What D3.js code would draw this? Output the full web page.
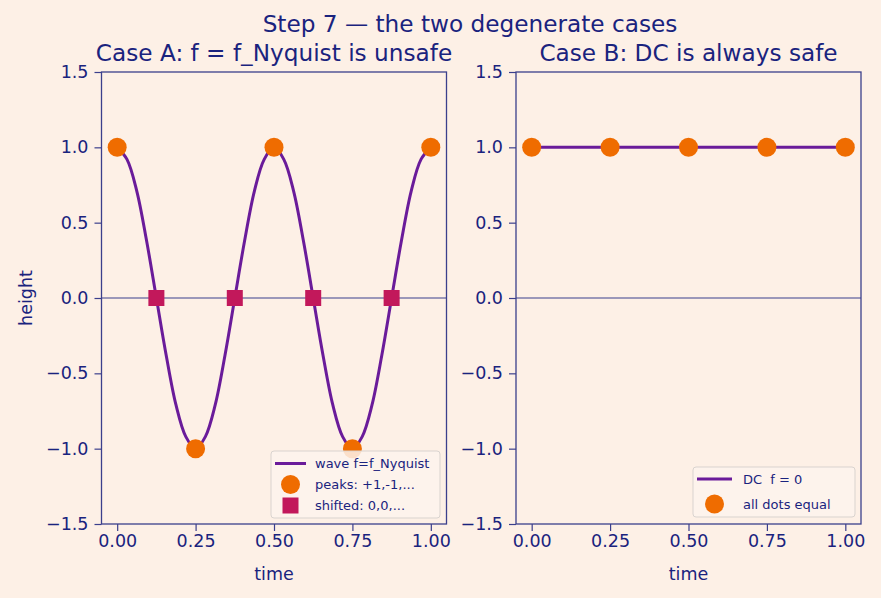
<!DOCTYPE html>
<html>
<head>
<meta charset="utf-8">
<script src="https://cdn.jsdelivr.net/npm/d3@7"></script>
<style>
  body { margin: 0; background: #fdf0e6; }
  svg text { font-family: "DejaVu Sans", sans-serif; fill: #1a237e; white-space: pre; }
</style>
</head>
<body>
<div id="chart"></div>
<script>
const waveT = [0, 0.03125, 0.0625, 0.09375, 0.125, 0.15625, 0.1875, 0.21875, 0.25,
  0.28125, 0.3125, 0.34375, 0.375, 0.40625, 0.4375, 0.46875, 0.5,
  0.53125, 0.5625, 0.59375, 0.625, 0.65625, 0.6875, 0.71875, 0.75,
  0.78125, 0.8125, 0.84375, 0.875, 0.90625, 0.9375, 0.96875, 1];
const waveY = [1, 0.92, 0.71, 0.38, 0, -0.38, -0.71, -0.92, -1,
  -0.92, -0.71, -0.38, 0, 0.38, 0.71, 0.92, 1,
  0.92, 0.71, 0.38, 0, -0.38, -0.71, -0.92, -1,
  -0.92, -0.71, -0.38, 0, 0.38, 0.71, 0.92, 1];
const peakT = [0, 0.25, 0.5, 0.75, 1];
const peakY = [1, -1, 1, -1, 1];
const shiftT = [0.125, 0.375, 0.625, 0.875];
const shiftY = [0, 0, 0, 0];
const dcT = [0, 1];
const dcY = [1, 1];
const dotT = [0, 0.25, 0.5, 0.75, 1];
const dotY = [1, 1, 1, 1, 1];
const xTicks = [0, 0.25, 0.5, 0.75, 1];
const yTicks = [-1.5, -1, -0.5, 0, 0.5, 1, 1.5];

const W = 881, H = 598;
const ink = "#1a237e", spine = "#3b3f8c";
const cPurple = "#6a1b9a", cOrange = "#ef6c00", cRed = "#c2185b";

const svg = d3.select("#chart").append("svg")
  .attr("width", W).attr("height", H);
svg.append("rect").attr("width", W).attr("height", H).attr("fill", "#fdf0e6");

svg.append("text").attr("x", 470).attr("y", 32)
  .attr("text-anchor", "middle").attr("font-size", 23.2).text("Step 7 — the two degenerate cases");

function panel(left, title, withYLabel) {
  const top = 72, bottom = 524, right = left + 345;
  const x = d3.scaleLinear().domain([-0.05, 1.05]).range([left, right]);
  const y = d3.scaleLinear().domain([-1.5, 1.5]).range([bottom, top]);
  const g = svg.append("g");

  // zero line
  g.append("line").attr("x1", left).attr("x2", right)
    .attr("y1", y(0)).attr("y2", y(0))
    .attr("stroke", spine).attr("stroke-width", 1.2);

  const xa = g.append("g").attr("transform", `translate(0,${bottom})`)
    .call(d3.axisBottom(x).tickValues(xTicks).tickFormat(d3.format(".2f")).tickSize(7).tickPadding(4));
  const ya = g.append("g").attr("transform", `translate(${left},0)`)
    .call(d3.axisLeft(y).tickValues(yTicks).tickFormat(d3.format(".1f")).tickSize(7).tickPadding(6));
  [xa, ya].forEach(a => {
    a.select(".domain").remove();
    a.selectAll("line").attr("stroke", spine).attr("stroke-width", 1.2);
    a.selectAll("text").attr("font-size", 17.5).attr("fill", ink)
      .style("font-family", "DejaVu Sans");
  });

  g.append("rect").attr("x", left).attr("y", top)
    .attr("width", right - left).attr("height", bottom - top)
    .attr("fill", "none").attr("stroke", spine).attr("stroke-width", 1.3);

  g.append("text").attr("x", (left + right) / 2).attr("y", 61)
    .attr("text-anchor", "middle").attr("font-size", 23.2).text(title);
  g.append("text").attr("x", (left + right) / 2).attr("y", 580)
    .attr("text-anchor", "middle").attr("font-size", 17.5).text("time");
  if (withYLabel) {
    g.append("text").attr("transform", `translate(32,${y(0)}) rotate(-90)`)
      .attr("text-anchor", "middle").attr("font-size", 17.5).text("height");
  }
  return { g, x, y };
}

const A = panel(101.5, "Case A: f = f_Nyquist is unsafe", true);
const B = panel(516, "Case B: DC is always safe", false);

// Case A marks
const waveLine = d3.line().x(d => A.x(d[0])).y(d => A.y(d[1])).curve(d3.curveCatmullRom);
A.g.append("path").datum(d3.zip(waveT, waveY)).attr("d", waveLine)
  .attr("fill", "none").attr("stroke", cPurple).attr("stroke-width", 3);
A.g.selectAll("circle.peak").data(d3.zip(peakT, peakY)).join("circle")
  .attr("class", "peak").attr("cx", d => A.x(d[0])).attr("cy", d => A.y(d[1]))
  .attr("r", 9.5).attr("fill", cOrange);
A.g.selectAll("rect.shift").data(d3.zip(shiftT, shiftY)).join("rect")
  .attr("class", "shift").attr("x", d => A.x(d[0]) - 8).attr("y", d => A.y(d[1]) - 8)
  .attr("width", 16).attr("height", 16).attr("fill", cRed);

// Case B marks
const dcLine = d3.line().x(d => B.x(d[0])).y(d => B.y(d[1]));
B.g.append("path").datum(d3.zip(dcT, dcY)).attr("d", dcLine)
  .attr("fill", "none").attr("stroke", cPurple).attr("stroke-width", 3);
B.g.selectAll("circle.dot").data(d3.zip(dotT, dotY)).join("circle")
  .attr("class", "dot").attr("cx", d => B.x(d[0])).attr("cy", d => B.y(d[1]))
  .attr("r", 9.5).attr("fill", cOrange);

function legend(cfg, items) {
  const lg = svg.append("g").attr("transform", `translate(${cfg.x},${cfg.y})`);
  lg.append("rect").attr("width", cfg.w).attr("height", cfg.h).attr("rx", 3)
    .attr("fill", "#fdf3ec").attr("fill-opacity", 0.85)
    .attr("stroke", "#d9d3cf").attr("stroke-width", 1);
  items.forEach((it, i) => {
    const cy = cfg.first + i * cfg.row;
    const mx = (cfg.h0 + cfg.h1) / 2;
    if (it.type === "line") {
      lg.append("line").attr("x1", cfg.h0).attr("x2", cfg.h1).attr("y1", cy).attr("y2", cy)
        .attr("stroke", cPurple).attr("stroke-width", 3);
    } else if (it.type === "circle") {
      lg.append("circle").attr("cx", mx).attr("cy", cy).attr("r", 9.5).attr("fill", cOrange);
    } else {
      lg.append("rect").attr("x", mx - 8).attr("y", cy - 8).attr("width", 16).attr("height", 16)
        .attr("fill", cRed);
    }
    lg.append("text").attr("x", cfg.tx).attr("y", cy).attr("dy", "0.35em")
      .attr("font-size", 13).text(it.label);
  });
}
legend({ x: 271, y: 451, w: 169, h: 67, first: 12.5, row: 21, h0: 4, h1: 35, tx: 44 }, [
  { type: "line", label: "wave f=f_Nyquist" },
  { type: "circle", label: "peaks: +1,-1,..." },
  { type: "square", label: "shifted: 0,0,..." }
]);
legend({ x: 693, y: 467, w: 162, h: 50, first: 12, row: 25, h0: 4, h1: 39, tx: 50 }, [
  { type: "line", label: "DC  f = 0" },
  { type: "circle", label: "all dots equal" }
]);
</script>
</body>
</html>
